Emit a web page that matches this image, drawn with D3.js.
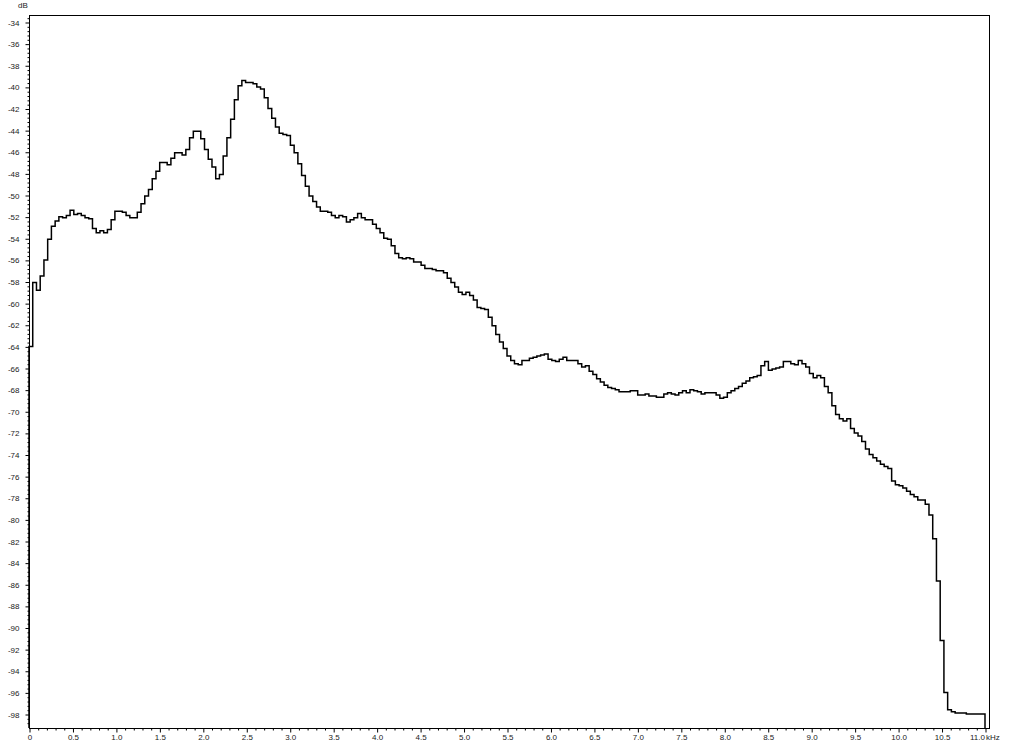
<!DOCTYPE html>
<html>
<head>
<meta charset="utf-8">
<script src="https://cdn.jsdelivr.net/npm/d3@7"></script>
<style>
  html, body { margin: 0; padding: 0; background: #fff; }
  svg { display: block; }
  text { font-family: "Liberation Sans", Arial, sans-serif; font-size: 8px; fill: #222; }
</style>
</head>
<body>
<svg id="chart" width="1024" height="745"></svg>
<script>
// ---- data ----
// spectrum level (dB) per frequency bin, 256 bins from 0 to 11.0 kHz
const levels = [
  -64.0, -58.1, -58.8, -57.5, -56.0, -54.1, -52.9, -52.4, -52.0, -52.1,
  -51.9, -51.4, -51.8, -51.7, -51.9, -52.1, -52.2, -53.1, -53.5, -53.3,
  -53.5, -53.2, -52.3, -51.5, -51.5, -51.6, -51.9, -52.1, -52.1, -51.6,
  -50.8, -50.1, -49.5, -48.5, -47.8, -47.0, -47.0, -47.2, -46.6, -46.1,
  -46.1, -46.3, -45.8, -44.7, -44.1, -44.1, -44.8, -45.8, -46.7, -47.4,
  -48.5, -48.1, -46.4, -44.7, -43.0, -41.2, -39.9, -39.4, -39.6, -39.6,
  -39.7, -40.0, -40.2, -41.0, -42.0, -42.9, -43.7, -44.3, -44.4, -44.5,
  -45.4, -46.1, -47.1, -48.2, -49.2, -50.1, -50.6, -51.1, -51.5, -51.5,
  -51.6, -51.9, -52.1, -51.9, -52.0, -52.5, -52.3, -52.1, -51.7, -52.1,
  -52.3, -52.3, -52.7, -53.1, -53.5, -54.0, -54.1, -54.7, -55.4, -55.8,
  -55.9, -55.8, -55.9, -56.2, -56.2, -56.5, -56.8, -56.8, -56.9, -57.0,
  -57.0, -57.2, -57.7, -58.1, -58.5, -59.0, -59.2, -59.0, -59.3, -59.7,
  -60.4, -60.5, -60.6, -61.3, -62.1, -62.9, -63.6, -64.2, -64.9, -65.3,
  -65.6, -65.7, -65.3, -65.3, -65.1, -65.0, -64.9, -64.8, -64.7, -65.2,
  -65.3, -65.4, -65.2, -65.0, -65.3, -65.3, -65.3, -65.6, -65.9, -65.8,
  -66.3, -66.6, -67.0, -67.3, -67.6, -67.8, -67.9, -68.0, -68.2, -68.2,
  -68.2, -68.1, -68.1, -68.5, -68.5, -68.4, -68.6, -68.6, -68.7, -68.7,
  -68.4, -68.3, -68.4, -68.5, -68.3, -68.1, -68.3, -68.0, -68.1, -68.2,
  -68.4, -68.3, -68.3, -68.3, -68.5, -68.8, -68.7, -68.3, -68.1, -67.9,
  -67.7, -67.4, -67.2, -66.9, -66.8, -66.7, -65.8, -65.4, -66.2, -66.1,
  -66.0, -65.9, -65.4, -65.4, -65.6, -65.7, -65.3, -65.6, -65.9, -66.5,
  -66.9, -66.7, -66.9, -67.7, -68.3, -69.5, -70.3, -70.7, -70.9, -70.7,
  -71.6, -72.0, -72.3, -72.8, -73.5, -74.0, -74.3, -74.6, -74.9, -75.1,
  -75.3, -76.45, -76.8, -76.9, -77.1, -77.4, -77.7, -77.9, -78.2, -78.2,
  -78.6, -79.6, -81.8, -85.7, -91.2, -96.0, -97.6, -97.8, -97.9, -97.9,
  -97.9, -98.0, -98.0, -98.0, -98.0, -98.0
];
const maxFreqKHz = 11.0;
const xMajorTicks = [0, 0.5, 1.0, 1.5, 2.0, 2.5, 3.0, 3.5, 4.0, 4.5, 5.0, 5.5,
  6.0, 6.5, 7.0, 7.5, 8.0, 8.5, 9.0, 9.5, 10.0, 10.5, 11.0];
const yMajorTicks = [-34, -36, -38, -40, -42, -44, -46, -48, -50, -52, -54, -56,
  -58, -60, -62, -64, -66, -68, -70, -72, -74, -76, -78, -80, -82, -84, -86,
  -88, -90, -92, -94, -96, -98];
const xUnit = "kHz";
const yUnit = "dB";

(function () {
  // ---- layout ----
  const plotL = 29, plotR = 989, plotT = 15, plotB = 728;
  const svg = d3.select("#chart");

  const x = d3.scaleLinear()
    .domain([0, maxFreqKHz * (plotR - plotL) / 956])
    .range([plotL, plotR]);
  // -34 dB at y=22, -98 dB at y=714
  const pxPerDb = (714 - 22) / 64;
  const y = d3.scaleLinear()
    .domain([-34 - (plotB - 22) / pxPerDb, -34 + (22 - plotT) / pxPerDb])
    .range([plotB, plotT]);

  // minor ticks
  const xMinor = d3.range(0, 111).map(k => k / 10)
    .filter(v => Math.abs(v * 2 - Math.round(v * 2)) > 1e-6);
  const yMinor = d3.range(0, 164).map(k => -33.6 - k * 0.4)
    .filter(v => v >= y.domain()[0] && Math.abs(v / 2 - Math.round(v / 2)) > 1e-6);

  // frame
  svg.append("rect")
    .attr("x", plotL + 0.5).attr("y", plotT + 0.5)
    .attr("width", plotR - plotL).attr("height", plotB - plotT)
    .attr("fill", "none").attr("stroke", "#000").attr("stroke-width", 1);

  // x axis
  const gx = svg.append("g").attr("transform", `translate(0.5,${plotB + 0.5})`);
  gx.call(d3.axisBottom(x).tickValues(xMinor).tickSize(2).tickFormat(""));
  gx.append("g").call(
    d3.axisBottom(x).tickValues(xMajorTicks).tickSize(4).tickPadding(2)
      .tickFormat(d => d === 0 ? "0" : d3.format(".1f")(d))
  );
  gx.selectAll(".domain").remove();
  gx.selectAll("line").attr("stroke", "#000");
  gx.selectAll("text").style("font-size", "8px").attr("fill", "#222");
  gx.selectAll(".tick text").filter(d => d === maxFreqKHz)
    .attr("text-anchor", "end").attr("x", -1);
  svg.append("text")
    .attr("x", x(maxFreqKHz) + 1).attr("y", 740)
    .attr("text-anchor", "start").text(xUnit);

  // y axis
  const gy = svg.append("g").attr("transform", `translate(${plotL + 0.5},0.5)`);
  gy.call(d3.axisLeft(y).tickValues(yMinor).tickSize(2).tickFormat(""));
  gy.append("g").call(
    d3.axisLeft(y).tickValues(yMajorTicks).tickSize(4).tickPadding(6)
      .tickFormat(d => String(d))
  );
  gy.selectAll(".domain").remove();
  gy.selectAll("line").attr("stroke", "#000");
  gy.selectAll("text").style("font-size", "8px").attr("fill", "#222");

  svg.append("text")
    .attr("x", 18).attr("y", 8)
    .attr("text-anchor", "start").text(yUnit);

  // spectrum step line
  const binW = maxFreqKHz / levels.length;
  const pts = [[x(0), y.range()[0]]];
  levels.forEach((v, i) => {
    pts.push([x(i * binW), y(v)]);
    pts.push([x((i + 1) * binW), y(v)]);
  });
  pts.push([x(levels.length * binW), y.range()[0]]);

  svg.append("path")
    .attr("d", d3.line()(pts))
    .attr("fill", "none")
    .attr("stroke", "#000")
    .attr("stroke-width", 1.5)
    .attr("stroke-linejoin", "miter");
})();
</script>
</body>
</html>
